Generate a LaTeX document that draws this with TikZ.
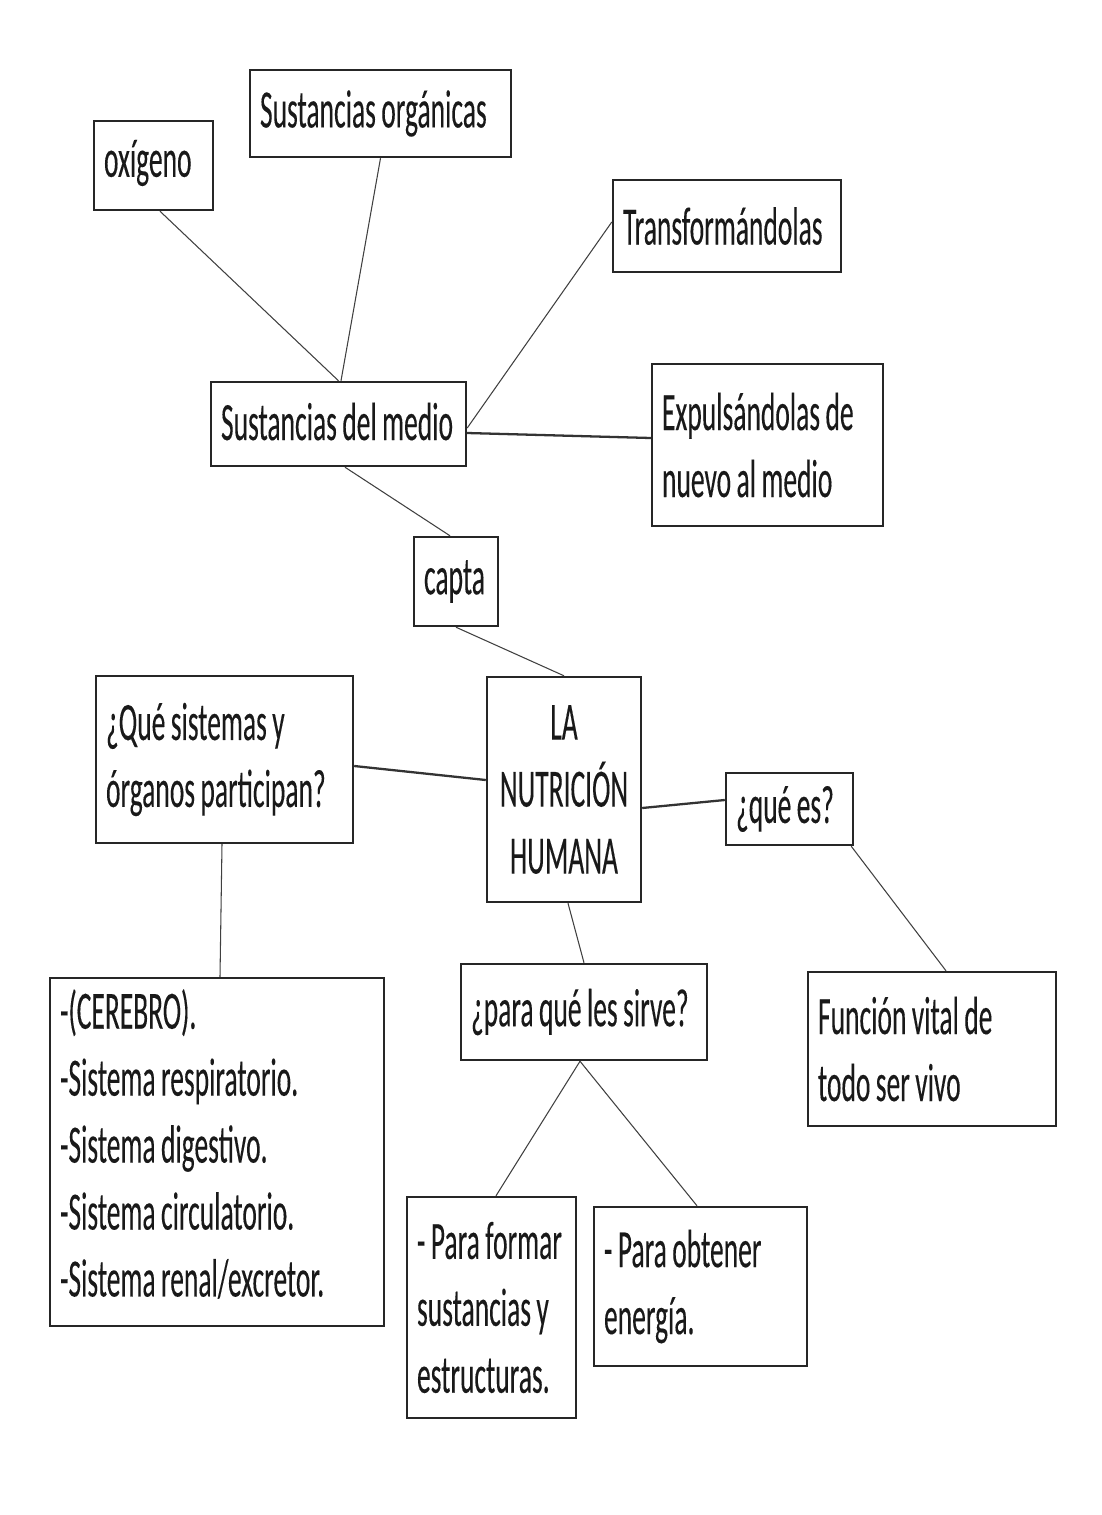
\documentclass[tikz,border=0pt]{standalone}
\usepackage{fontspec}
\setmainfont{Carlito}[FakeStretch=0.51,FakeBold=0.15]
\newcommand\boxfont{\fontsize{30.7pt}{38.1pt}\selectfont\spaceskip=0.1em\relax\xspaceskip=0.1em\relax}
\begin{document}
\begin{tikzpicture}[x=0.02cm,y=-0.02cm,
  box/.style={draw=black!85, line width=1.4pt, inner xsep=0.2cm, inner ysep=0pt,
    align=flush left, font=\boxfont, text=black!90},
  thin/.style={draw=black!75, line width=0.6pt},
  thick/.style={draw=black!80, line width=1.3pt}]
\useasboundingbox[fill=white] (0,0) rectangle (1102,1515);

\node[box, minimum width=2.38cm, minimum height=1.78cm, text width=1.98cm] (oxi) at (153.5,165.5) {\vspace*{0.1cm}oxígeno};
\node[box, minimum width=5.22cm, minimum height=1.74cm, text width=4.82cm] (sorg) at (380.5,113.5) {\mbox{Sustancias orgánicas}};
\node[box, minimum width=4.56cm, minimum height=1.84cm, text width=4.16cm] (trans) at (727,226) {Transformándolas};
\node[box, minimum width=5.10cm, minimum height=1.68cm, text width=4.70cm] (smedio) at (338.5,424) {\vspace*{0.1cm}\mbox{Sustancias del medio}};
\node[box, minimum width=4.62cm, minimum height=3.24cm, text width=4.22cm] (expul) at (767.5,445) {\mbox{Expulsándolas de}\\\mbox{nuevo al medio}};
\node[box, minimum width=1.68cm, minimum height=1.78cm, text width=1.28cm] (capta) at (456,581.5) {capta};
\node[box, minimum width=5.14cm, minimum height=3.34cm, text width=4.74cm] (qsist) at (224.5,759.5) {\mbox{¿Qué sistemas y}\\\mbox{órganos participan?}};
\node[box, minimum width=3.08cm, minimum height=4.50cm, text width=2.68cm, align=flush center] (nutri) at (564,789.5) {LA\\NUTRICIÓN\\HUMANA};
\node[box, minimum width=2.54cm, minimum height=1.44cm, text width=2.14cm] (quees) at (789.5,809) {\mbox{¿qué es?}};
\node[box, minimum width=6.68cm, minimum height=6.96cm, text width=6.28cm, inner xsep=0.16cm] (cerebro) at (217,1152)
  {-(CEREBRO).\\\mbox{-Sistema respiratorio.}\\\mbox{-Sistema digestivo.}\\\mbox{-Sistema circulatorio.}\\\mbox{-Sistema renal/excretor.}\par\vspace{0.32cm}};
\node[box, minimum width=4.92cm, minimum height=1.92cm, text width=4.52cm] (para) at (584,1012) {\mbox{¿para qué les sirve?}};
\node[box, minimum width=4.96cm, minimum height=3.08cm, text width=4.56cm] (funcion) at (932,1049) {\mbox{Función vital de}\\\mbox{todo ser vivo}};
\node[box, minimum width=3.38cm, minimum height=4.42cm, text width=2.98cm] (formar) at (491.5,1307.5) {\mbox{- Para formar}\\\mbox{sustancias y}\\\mbox{estructuras.}};
\node[box, minimum width=4.26cm, minimum height=3.18cm, text width=3.86cm] (obtener) at (700.5,1286.5) {\mbox{- Para obtener}\\\mbox{energía.}};

\draw[thin] ([xshift=0.13cm]oxi.south) -- (smedio.north);
\draw[thin] (sorg.south) -- ([xshift=0.05cm]smedio.north);
\draw[thin] ([yshift=0.08cm]trans.west) -- ([yshift=-0.08cm]smedio.east);
\draw[thick] ([yshift=-0.18cm]smedio.east) -- ([yshift=0.14cm]expul.west);
\draw[thin] ([xshift=0.13cm]smedio.south) -- ([xshift=-0.12cm]capta.north);
\draw[thin] (capta.south) -- (nutri.north);
\draw[thick] ([yshift=-0.13cm]qsist.east) -- ([yshift=0.19cm]nutri.west);
\draw[thick] ([yshift=-0.37cm]nutri.east) -- ([yshift=0.18cm]quees.west);
\draw[thin] ([xshift=-0.06cm]quees.south east) -- ([xshift=0.28cm]funcion.north);
\draw[thin] ([xshift=-0.05cm]qsist.south) -- ([xshift=0.06cm]cerebro.north);
\draw[thin] ([xshift=0.08cm]nutri.south) -- (para.north);
\draw[thin] ([xshift=-0.08cm]para.south) -- ([xshift=0.09cm]formar.north);
\draw[thin] ([xshift=-0.08cm]para.south) -- ([xshift=-0.07cm]obtener.north);
\end{tikzpicture}
\end{document}
